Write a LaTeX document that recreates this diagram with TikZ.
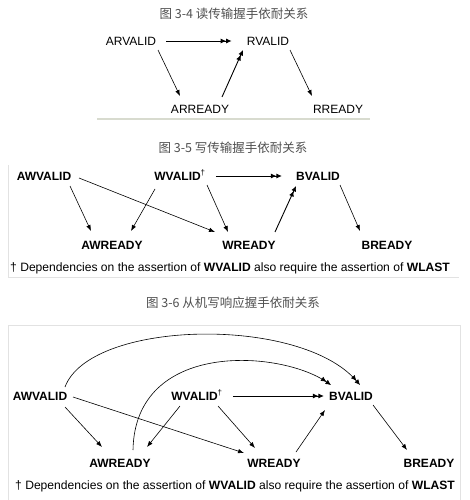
\documentclass[tikz,border=0pt]{standalone}
\usepackage{fontspec}
\setmainfont{Liberation Sans}
\newfontfamily\cjk{Noto Sans CJK SC}
\usetikzlibrary{arrows.meta}
\definecolor{titlegray}{HTML}{505050}
\definecolor{framegray}{HTML}{E2E2E2}
\definecolor{rulegreen}{HTML}{D8DBCF}
\begin{document}
\begin{tikzpicture}[x=1pt,y=-1pt,
  lbl/.style={inner sep=0pt,text height=8.6pt,text depth=0pt,font=\fontsize{12}{14}\selectfont},
  blbl/.style={lbl,font=\fontsize{12}{14}\selectfont\bfseries},
  ttl/.style={inner sep=0pt,text=titlegray,font=\cjk\fontsize{12.5}{14}\selectfont},
  note/.style={inner sep=0pt,anchor=base west,font=\fontsize{12.1}{14}\selectfont},
  arr/.style={line width=0.6pt,-{Latex[length=6pt,width=4.5pt]}},
  darr/.style={line width=0.9pt,-{Latex[length=5.5pt,width=5pt,sep=0pt]Latex[length=5.5pt,width=5pt]}},
  frame/.style={draw=framegray,line width=0.8pt}]
\useasboundingbox (0,0) rectangle (469,500);
\fill[white] (0,0) rectangle (469,500);

% ---------- Figure 3-4 ----------
\node[ttl] (t1) at (234,14) {图 3-4 读传输握手依耐关系};
\node[lbl] (arv) at (131,41) {ARVALID};
\node[lbl] (rv)  at (268,41) {RVALID};
\node[lbl] (arr) at (200,109) {ARREADY};
\node[lbl] (rr)  at (338,109) {RREADY};
\draw[darr,shorten <=10pt,shorten >=15pt] (arv.east) -- (rv.west);
\draw[arr] ([shift={(27,9)}]arv.center) -- ([shift={(-20,-13)}]arr.center);
\draw[darr] ([shift={(22,-12)}]arr.center) -- ([shift={(-25,9)}]rv.center);
\draw[arr] ([shift={(22,9)}]rv.center) -- ([shift={(-26,-13)}]rr.center);
\coordinate (r1a) at (97,119);
\coordinate (r1b) at (370,119);
\draw[rulegreen,line width=1.2pt] (r1a) -- (r1b);

% ---------- Figure 3-5 ----------
\node[ttl] (t2) at (233,148) {图 3-5 写传输握手依耐关系};
\coordinate (f2a) at (8,165);
\coordinate (f2b) at (8,277);
\coordinate (f2c) at (459,277);
\draw[frame] (f2a) -- (f2b) -- (f2c);
\node[blbl] (awv2) at (44,176) {AWVALID};
\node[blbl] (wv2)  at (180,176) {WVALID\textsuperscript{\mdseries\dag}};
\node[blbl] (bv2)  at (318,176) {BVALID};
\node[blbl] (awr2) at (112,245) {AWREADY};
\node[blbl] (wr2)  at (249,245) {WREADY};
\node[blbl] (br2)  at (387,245) {BREADY};
\draw[arr] ([shift={(26,10)}]awv2.center) -- ([shift={(-21,-14)}]awr2.center);
\draw[arr] ([shift={(-25,13)}]wv2.center) -- ([shift={(19,-14)}]awr2.center);
\draw[arr] ([shift={(35,2)}]awv2.center) -- ([shift={(-34,-13)}]wr2.center);
\draw[arr] ([shift={(27,9)}]wv2.center) -- ([shift={(-21,-13)}]wr2.center);
\draw[darr,shorten <=10pt,shorten >=14pt] (wv2.east) -- (bv2.west);
\draw[darr] ([shift={(26,-13)}]wr2.center) -- ([shift={(-22,10)}]bv2.center);
\draw[arr] ([shift={(22,9)}]bv2.center) -- ([shift={(-27,-14)}]br2.center);
\node[note] (n2) at (10,271.3) {\dag\ Dependencies on the assertion of \textbf{WVALID} also require the assertion of \textbf{WLAST}};

% ---------- Figure 3-6 ----------
\node[ttl] (t3) at (233,303) {图 3-6 从机写响应握手依耐关系};
\coordinate (f3a) at (8,502);
\coordinate (f3b) at (8,325);
\coordinate (f3c) at (460,325);
\coordinate (f3d) at (460,502);
\draw[frame] (f3a) -- (f3b) -- (f3c) -- (f3d);
\node[blbl] (awv3) at (40,396) {AWVALID};
\node[blbl] (wv3)  at (197,396) {WVALID\textsuperscript{\mdseries\dag}};
\node[blbl] (bv3)  at (351,396) {BVALID};
\node[blbl] (awr3) at (120,463) {AWREADY};
\node[blbl] (wr3)  at (274,463) {WREADY};
\node[blbl] (br3)  at (429,463) {BREADY};
\draw[arr] ([shift={(25,11)}]awv3.center) -- ([shift={(-18,-16)}]awr3.center);
\draw[arr] ([shift={(-17,10)}]wv3.center) -- ([shift={(27,-16)}]awr3.center);
\draw[arr] ([shift={(33,1)}]awv3.center) -- ([shift={(-30,-10)}]wr3.center);
\draw[arr] ([shift={(21,10)}]wv3.center) -- ([shift={(-19,-15)}]wr3.center);
\draw[darr,shorten <=10pt,shorten >=5pt] (wv3.east) -- (bv3.west);
\draw[arr] ([shift={(22,-11)}]wr3.center) -- ([shift={(-26,14)}]bv3.center);
\draw[arr] ([shift={(22,9)}]bv3.center) -- ([shift={(-22,-13)}]br3.center);
\draw[darr,line width=0.6pt] ([shift={(25,-9)}]awv3.center) .. controls (90,320) and (300,315) .. ([shift={(9,-11)}]bv3.center);
\draw[darr,line width=0.6pt] ([shift={(13,-13)}]awr3.center) .. controls (135,340) and (280,350) .. ([shift={(-20,-11)}]bv3.center);
\node[note] (n3) at (15,489.3) {\dag\ Dependencies on the assertion of \textbf{WVALID} also require the assertion of \textbf{WLAST}};
\end{tikzpicture}
\end{document}
